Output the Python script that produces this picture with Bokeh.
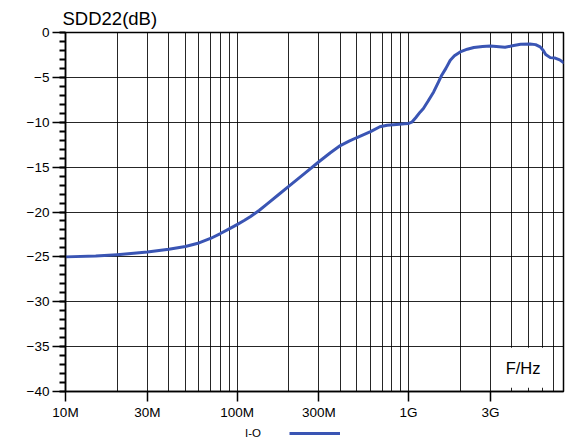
from bokeh.plotting import figure
from bokeh.layouts import column
from bokeh.models import (Range1d, FixedTicker, CustomJSTickFormatter, Legend,
                          LegendItem, BoxAnnotation, Label)
from bokeh.core.properties import value
from bokeh.embed import file_html
from bokeh.resources import INLINE

# ---- data ----
FREQ_MHZ = [10, 15, 20, 25, 30, 40, 50, 60, 70, 80, 90, 100, 110, 120, 135,
            150, 175, 200, 250, 300, 350, 400, 450, 500, 600, 680, 750, 850,
            950, 1000, 1050, 1100, 1170, 1220, 1300, 1400, 1500, 1560, 1650,
            1750, 1850, 2000, 2200, 2400, 2700, 3000, 3650, 4100, 4500, 5100,
            5500, 5850, 6100, 6300, 6700, 7150, 7600, 8000]
SDD22_DB = [-25.0, -24.9, -24.75, -24.6, -24.46, -24.16, -23.85, -23.45, -22.95,
            -22.4, -21.88, -21.4, -20.95, -20.5, -19.8, -19.1, -18.05, -17.15,
            -15.64, -14.4, -13.4, -12.6, -12.1, -11.7, -11.05, -10.5, -10.33,
            -10.25, -10.18, -10.14, -9.95, -9.5, -8.85, -8.47, -7.64, -6.62,
            -5.45, -4.76, -4.0, -3.09, -2.6, -2.16, -1.86, -1.67, -1.55, -1.5,
            -1.65, -1.45, -1.32, -1.28, -1.35, -1.6, -2.0, -2.45, -2.8, -2.85,
            -3.05, -3.34]

X_TICKS = [1e7, 3e7, 1e8, 3e8, 1e9, 3e9]
X_LABELS = ["10M", "30M", "100M", "300M", "1G", "3G"]
X_GRID = [m * d for d in (1e7, 1e8, 1e9) for m in range(1, 10) if m * d <= 8e9]
Y_TICKS = [0, -5, -10, -15, -20, -25, -30, -35, -40]
Y_MINOR = list(range(-40, 1))

TITLE = "SDD22(dB)"
X_UNIT = "F/Hz"
LEGEND_LABEL = "I-O"
LINE_COLOR = "#3a55b4"
FONT = "Liberation Sans"

freq_hz = [f * 1e6 for f in FREQ_MHZ]

p = figure(width=581, height=422, x_axis_type="log",
           x_range=Range1d(1e7, 8e9), y_range=Range1d(-40, 0),
           output_backend="svg", toolbar_location=None,
           min_border_left=65, min_border_right=18,
           min_border_top=32, min_border_bottom=31)
p.background_fill_color = "white"
p.border_fill_color = "white"
p.outline_line_color = "black"
p.outline_line_width = 1.5

# title
p.title.text = TITLE
p.title.text_font = FONT
p.title.text_font_size = "18.5px"
p.title.text_font_style = "normal"
p.title.text_color = "black"
p.title.align = "left"
p.title.offset = -3
p.title.standoff = 8

# grids
p.xgrid.ticker = FixedTicker(ticks=X_GRID)
p.xgrid.grid_line_color = "black"
p.xgrid.grid_line_alpha = 0.85
p.xgrid.grid_line_width = 1
p.ygrid.ticker = FixedTicker(ticks=Y_TICKS)
p.ygrid.grid_line_color = "black"
p.ygrid.grid_line_alpha = 0.85
p.ygrid.grid_line_width = 1

# x axis
xa = p.xaxis[0]
xa.ticker = FixedTicker(ticks=X_TICKS, minor_ticks=[])
xa.formatter = CustomJSTickFormatter(
    args=dict(tvals=X_TICKS, tlabels=X_LABELS),
    code="""
    for (let i = 0; i < tvals.length; i++) {
        if (Math.abs(tvals[i] - tick) / tvals[i] < 1e-6) return tlabels[i];
    }
    return '';
    """)
xa.major_tick_out = 10
xa.major_tick_in = 0
xa.minor_tick_out = 0
xa.minor_tick_in = 0
xa.axis_line_width = 1.5
xa.major_tick_line_width = 1.5
xa.major_label_standoff = 3
xa.major_label_text_font = FONT
xa.major_label_text_font_size = "13.5px"
xa.major_label_text_color = "black"

# y axis
ya = p.yaxis[0]
ya.ticker = FixedTicker(ticks=Y_TICKS, minor_ticks=Y_MINOR)
ya.major_tick_out = 13
ya.major_tick_in = 0
ya.minor_tick_out = 6
ya.minor_tick_in = 0
ya.minor_tick_line_width = 2
ya.major_tick_line_width = 1.5
ya.axis_line_width = 1.5
ya.major_label_standoff = 3
ya.major_label_text_font = FONT
ya.major_label_text_font_size = "13.5px"
ya.major_label_text_color = "black"

# data line
r = p.line(freq_hz, SDD22_DB, line_color=LINE_COLOR, line_width=3,
           line_join="round", line_cap="round")

# unit label in a white box inside the frame
box = BoxAnnotation(left=3.06e9, right=6.93e9, bottom=-39.58, top=-35.12,
                    fill_color="white", fill_alpha=1.0, line_color=None)
p.add_layout(box)
p.add_layout(Label(x=4.65e9, y=-37.4, text=X_UNIT, text_align="center",
                   text_baseline="middle", text_font=FONT,
                   text_font_size="16.5px", text_color="black"))

# ---- legend strip below the chart (text first, then the line sample) ----
q = figure(width=581, height=22, title=None, x_range=Range1d(1e7, 8e9),
           y_range=Range1d(100, 101), output_backend="svg",
           toolbar_location=None, x_axis_location=None, y_axis_location=None,
           min_border=0)
q.outline_line_color = None
q.xgrid.visible = False
q.ygrid.visible = False
q.background_fill_color = "white"
q.border_fill_color = "white"
r2 = q.line(freq_hz, SDD22_DB, line_color=LINE_COLOR, line_width=3)
dummy = q.line(x=[], y=[], line_alpha=0)
legend = Legend(items=[LegendItem(label=value(LEGEND_LABEL), renderers=[dummy]),
                       LegendItem(label=value(""), renderers=[r2])],
                orientation="horizontal", location=(124, 0),
                glyph_width=51, glyph_height=22, label_standoff=5, spacing=28,
                padding=0, margin=0, border_line_color=None,
                background_fill_alpha=0, label_width=0,
                label_text_font=FONT, label_text_font_size="11.5px",
                label_text_color="black")
q.add_layout(legend)

layout = column(p, q, spacing=0)
open("out.html", "w").write(file_html(layout, INLINE))
